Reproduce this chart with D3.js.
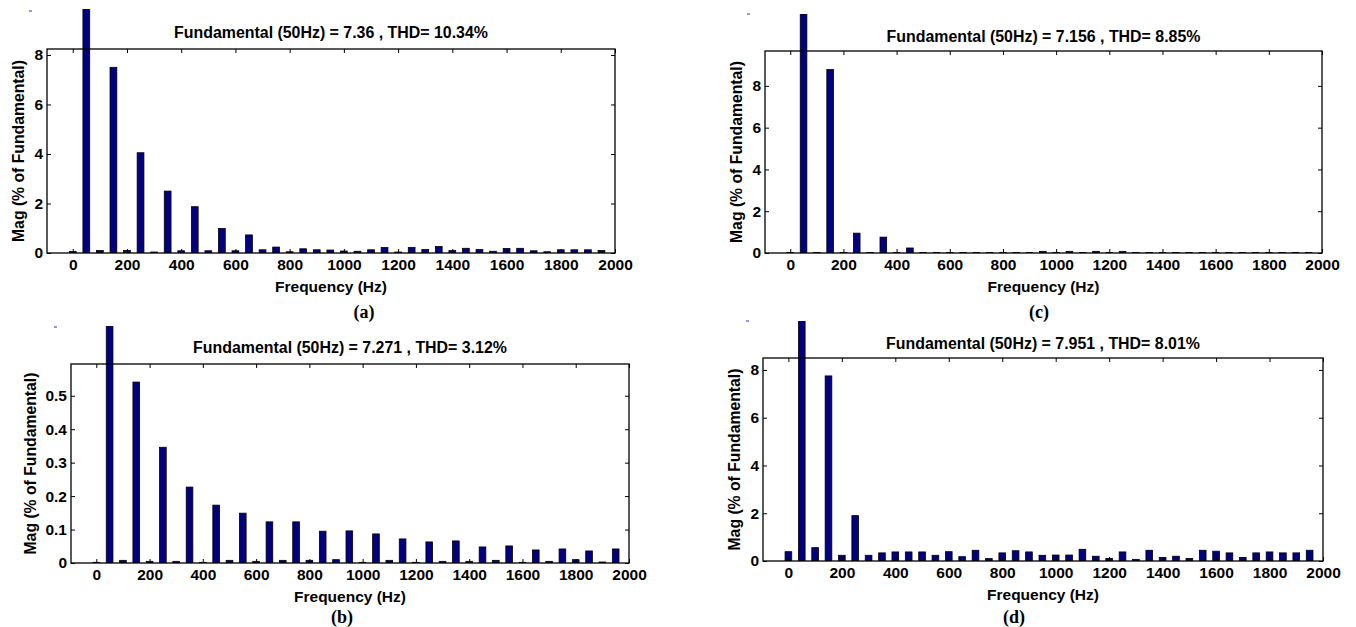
<!DOCTYPE html>
<html><head><meta charset="utf-8">
<script src="https://cdn.jsdelivr.net/npm/d3@7"></script>
<style>body{margin:0;background:#fff}svg{display:block}</style>
</head><body>
<svg id="chart" width="1356" height="627"></svg>
<script>
// ---------- data ----------
const freqs = [0,50,100,150,200,250,300,350,400,450,500,550,600,650,700,750,800,850,900,950,
               1000,1050,1100,1150,1200,1250,1300,1350,1400,1450,1500,1550,1600,1650,1700,1750,1800,1850,1900,1950];
const xTicks = [0,200,400,600,800,1000,1200,1400,1600,1800,2000];
const yTicks8 = [0,2,4,6,8];
const yTicksB = [0,0.1,0.2,0.3,0.4,0.5];

const titleA = "Fundamental (50Hz) = 7.36 , THD= 10.34%";
const titleB = "Fundamental (50Hz) = 7.271 , THD= 3.12%";
const titleC = "Fundamental (50Hz) = 7.156 , THD= 8.85%";
const titleD = "Fundamental (50Hz) = 7.951 , THD= 8.01%";

const magA = [0.06,100,0.1,7.5,0.1,4.05,0.04,2.5,0.09,1.87,0.09,0.99,0.09,0.73,0.13,0.24,0.05,0.17,0.13,0.12,
              0.08,0.07,0.13,0.22,0.04,0.22,0.14,0.26,0.1,0.19,0.14,0.07,0.18,0.19,0.09,0.05,0.13,0.13,0.13,0.1];
const magB = [0.002,100,0.008,0.541,0.005,0.346,0.005,0.227,0.002,0.173,0.008,0.149,0.005,0.123,0.008,0.123,0.008,0.095,0.01,0.096,
              0.002,0.087,0.008,0.072,0.002,0.063,0.005,0.066,0.005,0.048,0.008,0.051,0.002,0.039,0.005,0.042,0.01,0.036,0.003,0.042];
const magC = [0.02,100,0.02,8.78,0.02,0.95,0.02,0.76,0.02,0.24,0.02,0.02,0.02,0.02,0.02,0.02,0.02,0.02,0.02,0.08,
              0.02,0.08,0.02,0.08,0.02,0.08,0.02,0.02,0.02,0.02,0.02,0.02,0.02,0.02,0.02,0.02,0.02,0.02,0.02,0.02];
const magD = [0.39,100,0.56,7.75,0.24,1.9,0.24,0.34,0.38,0.38,0.38,0.24,0.39,0.18,0.45,0.1,0.34,0.43,0.38,0.24,
              0.25,0.25,0.49,0.2,0.11,0.38,0.07,0.45,0.15,0.2,0.11,0.45,0.41,0.34,0.15,0.34,0.38,0.34,0.34,0.45];

// ---------- layout ----------
const panels = [
  {id:"a", mags:magA, yMax:8.24, yTicks:yTicks8, fmt:d3.format("d"), title:titleA,
   L:47, R:615, T:49, B:253, clipTop:9, titleY:32, capX:364, capY:312, yLabX:18.5, dash:[29,11]},
  {id:"c", mags:magC, yMax:9.67, yTicks:yTicks8, fmt:d3.format("d"), title:titleC,
   L:765, R:1322, T:51, B:253, clipTop:14, titleY:36, capX:1039, capY:312, yLabX:736, dash:[747,14]},
  {id:"b", mags:magB, yMax:0.595, yTicks:yTicksB, fmt:d => d===0?"0":d3.format(".1f")(d), title:titleB,
   L:71, R:629, T:364, B:563, clipTop:326, titleY:347, capX:342, capY:617, yLabX:30.5, dash:[54,327]},
  {id:"d", mags:magD, yMax:8.5, yTicks:yTicks8, fmt:d3.format("d"), title:titleD,
   L:763, R:1323, T:358, B:561, clipTop:321, titleY:343, capX:1014, capY:617, yLabX:734, dash:[746,321]}
];

const SANS = "'Liberation Sans', Arial, Helvetica, sans-serif";
const SERIF = "'Liberation Serif', 'Times New Roman', serif";
const BAR = "#000080";
const FS = 15.5;

const svg = d3.select("#chart");
svg.append("rect").attr("width",1356).attr("height",627).attr("fill","#fff");

function fitText(sel, target){
  const base = parseFloat(sel.attr("font-size"));
  const w = sel.node().getComputedTextLength();
  sel.attr("font-size", (base*target/w).toFixed(2));
}

panels.forEach(p => {
  const g = svg.append("g");
  const x = d3.scaleLinear().domain([-95, 2000]).range([p.L, p.R]);
  const y = d3.scaleLinear().domain([0, p.yMax]).range([p.B, p.T]);
  const bw = x(25) - x(0);

  const clipId = "clip-" + p.id;
  svg.append("clipPath").attr("id", clipId).append("rect")
    .attr("x", p.L).attr("y", p.clipTop).attr("width", p.R - p.L).attr("height", p.B - p.clipTop);

  // tiny dash artifact at top-left
  g.append("line").attr("x1", p.dash[0]).attr("x2", p.dash[0]+3)
    .attr("y1", p.dash[1]).attr("y2", p.dash[1]).attr("stroke", "#2a2acc").attr("stroke-width", 1);

  // bars
  g.append("g").attr("clip-path", `url(#${clipId})`)
    .selectAll("rect").data(freqs.map((f,i)=>({f, v:p.mags[i]}))).join("rect")
    .attr("x", d => x(d.f) - bw/2)
    .attr("width", bw)
    .attr("y", d => y(d.v))
    .attr("height", d => y(0) - y(d.v))
    .attr("fill", BAR)
    .attr("stroke", "#000")
    .attr("stroke-width", 0.8);

  // axes (ticks pointing inward)
  const styleAxis = sel => {
    sel.select(".domain").remove();
    sel.selectAll(".tick line").attr("stroke", "#000").attr("stroke-width", 1);
    sel.selectAll(".tick text").attr("font-family", SANS).attr("font-weight", "bold")
      .attr("font-size", FS).attr("fill", "#000");
  };
  g.append("g").attr("transform", `translate(0,${p.B})`)
    .call(d3.axisBottom(x).tickValues(xTicks).tickSizeInner(-4).tickSizeOuter(0).tickPadding(6).tickFormat(d3.format("d")))
    .call(styleAxis);
  g.append("g").attr("transform", `translate(0,${p.T})`)
    .call(d3.axisTop(x).tickValues(xTicks).tickSizeInner(-4).tickSizeOuter(0).tickFormat(""))
    .call(styleAxis);
  g.append("g").attr("transform", `translate(${p.L},0)`)
    .call(d3.axisLeft(y).tickValues(p.yTicks).tickSizeInner(-4).tickSizeOuter(0).tickPadding(4).tickFormat(p.fmt))
    .call(styleAxis);
  g.append("g").attr("transform", `translate(${p.R},0)`)
    .call(d3.axisRight(y).tickValues(p.yTicks).tickSizeInner(-4).tickSizeOuter(0).tickFormat(""))
    .call(styleAxis);

  // frame
  g.append("rect").attr("x", p.L).attr("y", p.T).attr("width", p.R - p.L).attr("height", p.B - p.T)
    .attr("fill", "none").attr("stroke", "#000").attr("stroke-width", 1.3);

  // title
  const t = g.append("text").attr("x", (p.L + p.R)/2).attr("y", p.titleY).attr("dy", "0.35em")
    .attr("text-anchor", "middle").attr("font-family", SANS).attr("font-weight", "bold")
    .attr("font-size", 13).attr("fill", "#000").text(p.title);
  fitText(t, 314);

  // x label
  g.append("text").attr("x", (p.L + p.R)/2).attr("y", p.B + 34).attr("dy", "0.35em")
    .attr("text-anchor", "middle").attr("font-family", SANS).attr("font-weight", "bold")
    .attr("font-size", FS).attr("fill", "#000").text("Frequency (Hz)");

  // y label
  const yl = g.append("text").attr("transform", `translate(${p.yLabX},${(p.T + p.B)/2}) rotate(-90)`)
    .attr("dy", "0.35em").attr("text-anchor", "middle").attr("font-family", SANS).attr("font-weight", "bold")
    .attr("font-size", 14).attr("fill", "#000").text("Mag (% of Fundamental)");
  fitText(yl, 182);

  // caption
  g.append("text").attr("x", p.capX).attr("y", p.capY).attr("dy", "0.35em")
    .attr("text-anchor", "middle").attr("font-family", SERIF).attr("font-weight", "bold")
    .attr("font-size", 18).attr("fill", "#000").text(`(${p.id})`);
});
</script>
</body></html>
